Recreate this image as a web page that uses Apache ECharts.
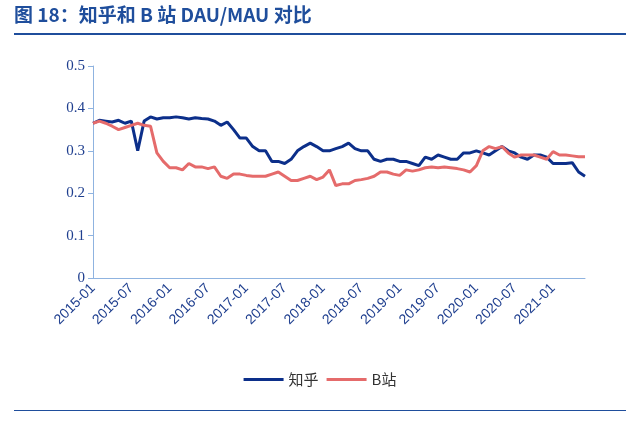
<!DOCTYPE html><html><head><meta charset="utf-8"><script src="https://cdn.jsdelivr.net/npm/echarts@6/dist/echarts.min.js"></script>
<style>body{margin:0}#c{width:640px;height:426px}</style></head><body><div id="c"></div><script>
const months=[];for(let y=2015;y<=2021;y++)for(let m=1;m<=12;m++){if(months.length<78)months.push(y+'-'+String(m).padStart(2,'0'));}
const zhihu=[.365,.372,.37,.368,.372,.365,.37,.30,.37,.38,.375,.378,.378,.38,.378,.375,.378,.376,.375,.37,.36,.368,.35,.33,.33,.31,.30,.30,.275,.275,.27,.28,.30,.31,.318,.31,.30,.30,.305,.31,.318,.305,.30,.30,.28,.275,.28,.28,.275,.275,.27,.265,.285,.28,.29,.285,.28,.28,.295,.295,.30,.295,.29,.30,.31,.30,.295,.285,.28,.29,.29,.285,.27,.27,.27,.272,.25,.24];
const bili=[.365,.37,.365,.358,.35,.355,.36,.365,.36,.358,.295,.275,.26,.26,.255,.27,.262,.262,.258,.262,.24,.235,.245,.245,.242,.24,.24,.24,.245,.25,.24,.23,.23,.235,.24,.232,.238,.255,.218,.222,.222,.23,.232,.235,.24,.25,.25,.245,.242,.255,.252,.255,.26,.262,.26,.262,.26,.258,.255,.25,.265,.30,.31,.305,.31,.295,.285,.29,.29,.29,.285,.28,.298,.29,.29,.288,.286,.286];
const c=echarts.init(document.getElementById('c'));
const blue='#1f3f8f';
c.setOption({
graphic:[{type:'text',left:14,top:5,style:{text:'图 18：知乎和 B 站 DAU/MAU 对比',font:'bold 19px "Noto Sans CJK SC"',fill:'#1f4e9c'}},
{type:'rect',shape:{x:14,y:33,width:612,height:2},style:{fill:'#1f4e9c'}},
{type:'rect',shape:{x:14,y:410,width:612,height:1},style:{fill:'#1f4e9c'}}],
legend:{bottom:34,left:'center',itemWidth:40,itemHeight:3,icon:'rect',textStyle:{fontSize:15,color:'#333',fontFamily:'Noto Sans CJK SC'},data:['知乎','B站']},
grid:{left:93,right:55,top:66,bottom:148},
xAxis:{type:'category',data:months,boundaryGap:false,axisLine:{lineStyle:{color:'#8fb3e0'}},axisTick:{show:false},
axisLabel:{interval:5,rotate:45,color:blue,fontSize:14,fontFamily:'Liberation Sans',margin:8}},
yAxis:{type:'value',min:0,max:0.5,interval:0.1,splitLine:{show:false},axisLine:{show:true,lineStyle:{color:'#8fb3e0'}},axisTick:{show:true,lineStyle:{color:'#8fb3e0'}},
axisLabel:{color:blue,fontSize:15,fontFamily:'Liberation Serif',formatter:v=>v===0?'0':String(v)}},
series:[{name:'知乎',type:'line',data:zhihu,symbol:'none',lineStyle:{width:3,color:'#0c2f8a'},itemStyle:{color:'#0c2f8a'}},
{name:'B站',type:'line',data:bili,symbol:'none',lineStyle:{width:3,color:'#e56b6b'},itemStyle:{color:'#e56b6b'}}]
});
</script></body></html>
